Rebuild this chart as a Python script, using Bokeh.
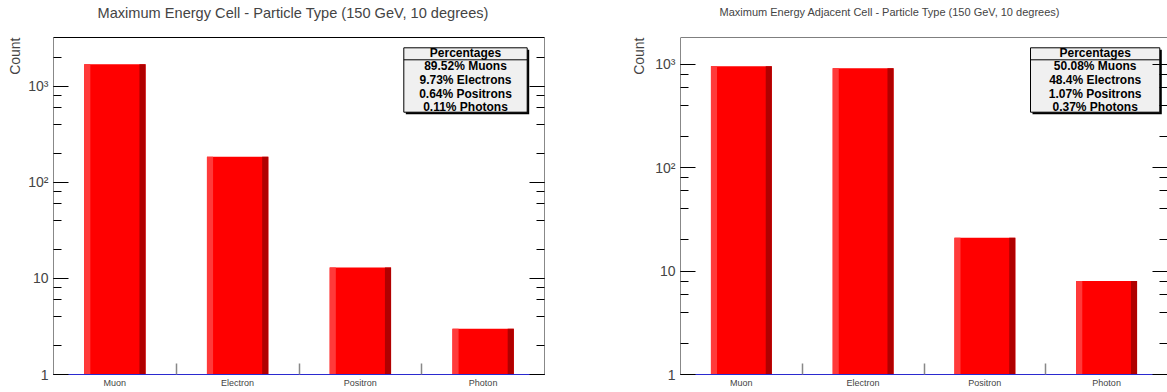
from bokeh.plotting import figure
from bokeh.layouts import row
from bokeh.models import Range1d, LinearScale, LogAxis, LogTicker, FixedTicker, Title
from bokeh.embed import file_html
from bokeh.resources import INLINE
from bokeh.core.properties import value

# ---------------- data ----------------
categories = ["Muon", "Electron", "Positron", "Photon"]
cell_counts = [1690, 185, 13, 3]
adjacent_counts = [955, 915, 21, 8]
cell_percent_lines = ["89.52% Muons", "9.73% Electrons", "0.64% Positrons", "0.11% Photons"]
adjacent_percent_lines = ["50.08% Muons", "48.4% Electrons", "1.07% Positrons", "0.37% Photons"]
box_header = "Percentages"
ytick_labels = {1: "1", 10: "10", 100: "10\u00b2", 1000: "10\u00b3"}
cell_title = "Maximum Energy Cell - Particle Type (150 GeV, 10 degrees)"
adjacent_title = "Maximum Energy Adjacent Cell - Particle Type (150 GeV, 10 degrees)"
y_label = "Count"

FONT = "Liberation Sans"
H = 392
TOP = 37
BOTTOM = 18


def make_panel(title, counts, pct_lines, width, bl, br, ymax, title_size, title_offset,
               spacer, box_x, box_w, count_standoff, right_edge_visible):
    frame_w = width - bl - br
    frame_h = H - TOP - BOTTOM
    n = len(categories)
    p = figure(width=width, height=H, x_range=Range1d(0, n), y_range=Range1d(1, ymax),
               y_axis_type="log", output_backend="svg", toolbar_location=None,
               min_border_left=bl, min_border_right=br, min_border_top=TOP,
               min_border_bottom=BOTTOM)
    p.title.text = title
    p.title.text_font = FONT
    p.title.text_font_style = "normal"
    p.title.text_font_size = title_size
    p.title.align = "left"
    p.title.vertical_align = "bottom"
    p.title.offset = title_offset
    p.title.standoff = 0
    # invisible spacer between the title and the frame
    p.add_layout(Title(text=" ", text_font_size="2px", standoff=spacer), "above")

    p.xgrid.visible = False
    p.ygrid.visible = False
    p.outline_line_color = "black" if right_edge_visible else None
    p.background_fill_color = "white"
    p.border_fill_color = "white"

    # pixel coordinates relative to the frame's top-left corner (for annotations)
    p.extra_x_ranges = {"px": Range1d(0, frame_w)}
    p.extra_y_ranges = {"px": Range1d(frame_h, 0)}
    p.extra_x_scales = {"px": LinearScale()}
    p.extra_y_scales = {"px": LinearScale()}

    # bars (ROOT style: 50% of bin width, light left edge, dark right edge)
    idx = list(range(n))
    left = [i + 0.25 for i in idx]
    right = [i + 0.75 for i in idx]
    p.quad(left=left, right=right, bottom=1, top=counts, fill_color="#ff0000", line_color=None)
    p.quad(left=left, right=[l + 0.05 for l in left], bottom=1, top=counts,
           fill_color="#ff3a3a", line_color=None)
    p.quad(left=[r - 0.05 for r in right], right=right, bottom=1, top=counts,
           fill_color="#b00000", line_color=None)

    # axes
    ya = p.yaxis[0]
    ya.ticker = LogTicker()
    ya.major_label_overrides = ytick_labels
    ya.axis_line_color = "#888888"
    ya.major_tick_in = 15
    ya.major_tick_out = 0
    ya.minor_tick_in = 8
    ya.minor_tick_out = 0
    ya.major_tick_line_color = "black"
    ya.minor_tick_line_color = "black"
    ya.major_label_text_font = FONT
    ya.major_label_text_font_size = "14px"
    ya.major_label_standoff = 5

    ra = LogAxis(ticker=LogTicker())
    ra.major_label_text_font_size = "1px"
    ra.major_label_text_color = None
    ra.major_label_standoff = 0
    ra.axis_line_color = "#888888" if right_edge_visible else None
    ra.major_tick_in = 15
    ra.major_tick_out = 0
    ra.minor_tick_in = 8
    ra.minor_tick_out = 0
    ra.major_tick_line_color = "black"
    ra.minor_tick_line_color = "black"
    p.add_layout(ra, "right")

    xa = p.xaxis[0]
    xa.ticker = FixedTicker(ticks=[i + 0.5 for i in idx], minor_ticks=[i for i in idx[1:]])
    xa.major_label_overrides = {i + 0.5: c for i, c in zip(idx, categories)}
    xa.axis_line_color = "#2a2ad0"
    xa.major_tick_in = 0
    xa.major_tick_out = 0
    xa.minor_tick_in = 11
    xa.minor_tick_out = 0
    xa.minor_tick_line_color = "#888888"
    xa.minor_tick_line_width = 1.5
    xa.major_label_text_font = FONT
    xa.major_label_text_font_size = "9px"
    xa.major_label_standoff = 3

    t = Title(text=y_label, align="right", text_font=FONT, text_font_style="normal",
              text_font_size="14px", standoff=count_standoff)
    p.add_layout(t, "left")

    if not right_edge_visible:
        # top frame edge only (the right edge lies outside the window)
        p.segment(x0=[0], x1=[frame_w], y0=[0], y1=[0], line_color="black", line_width=1,
                  x_range_name="px", y_range_name="px")

    # percentages box
    y0, y1, ysep = 10.3, 74.7, 22.3
    p.quad(left=[box_x + 2], right=[box_x + box_w + 2], top=[y0 + 2], bottom=[y1 + 2],
           fill_color="black", line_color=None, x_range_name="px", y_range_name="px")
    p.quad(left=[box_x], right=[box_x + box_w], top=[y0], bottom=[y1],
           fill_color="#f0f0f0", line_color="black", line_width=1,
           x_range_name="px", y_range_name="px")
    p.segment(x0=[box_x], x1=[box_x + box_w], y0=[ysep], y1=[ysep], line_color="black",
              line_width=1, x_range_name="px", y_range_name="px")
    lines = [box_header] + pct_lines
    ys = [15.7, 28.0, 42.7, 56.3, 69.7]
    p.text(x=[box_x + box_w / 2] * len(lines), y=ys, text=lines, text_align="center",
           text_baseline="middle", text_font=value(FONT), text_font_style="bold",
           text_font_size="12px", text_color="black",
           x_range_name="px", y_range_name="px")
    return p


p1 = make_panel(cell_title, cell_counts, cell_percent_lines, 583, 53, 39, 3215,
                "14.6px", 44, 13, 350.3, 123.4, 6, True)
p2 = make_panel(adjacent_title, adjacent_counts, adjacent_percent_lines, 584, 97, 0, 1811,
                "11px", 39, 16, 350.0, 129.3, 12, False)

layout = row(p1, p2, spacing=0)
open("out.html", "w").write(file_html(layout, INLINE))
